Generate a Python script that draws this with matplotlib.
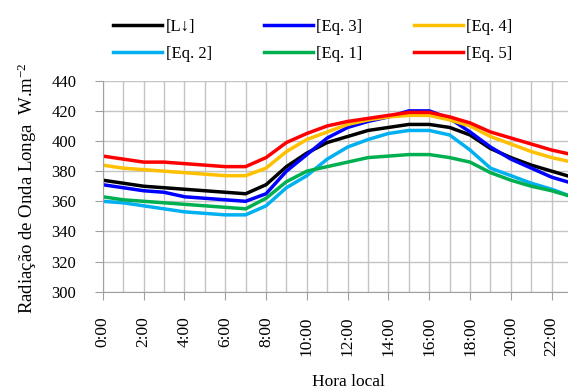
import numpy as np
import matplotlib
matplotlib.use("Agg")
import matplotlib.pyplot as plt
from matplotlib.ticker import MultipleLocator

plt.rcParams['font.family'] = ['Liberation Serif', 'DejaVu Serif']
plt.rcParams['mathtext.fontset'] = 'custom'
plt.rcParams['mathtext.rm'] = 'Liberation Serif'
plt.rcParams['mathtext.it'] = 'Liberation Serif:italic'

hours = np.arange(24)
xlabels = ["%d:00" % h for h in range(0, 24, 2)]

# valores (W.m-2)
obs = [374, 372, 370, 369, 368, 367, 366, 365, 371, 383, 392, 399, 403, 407, 409, 411, 411, 409, 404, 395, 389, 384, 380, 376]
eq3 = [371, 369, 367, 366, 363, 362, 361, 360, 365, 380, 391, 402, 409, 413, 416, 420, 420, 415, 406, 396, 388, 382, 376, 372]
eq4 = [384, 382, 381, 380, 379, 378, 377, 377, 382, 393, 401, 406, 411, 414, 416, 417, 417, 414, 410, 403, 398, 393, 389, 386]
eq5 = [390, 388, 386, 386, 385, 384, 383, 383, 389, 399, 405, 410, 413, 415, 417, 419, 419, 416, 412, 406, 402, 398, 394, 391]
eq2 = [360, 359, 357, 355, 353, 352, 351, 351, 357, 369, 377, 388, 396, 401, 405, 407, 407, 404, 394, 382, 377, 372, 368, 363]
eq1 = [363, 361, 360, 359, 358, 357, 356, 355, 362, 373, 380, 383, 386, 389, 390, 391, 391, 389, 386, 379, 374, 370, 367, 363]

fig = plt.figure(figsize=(5.68, 3.9), dpi=100)
ax = fig.add_axes([0.181, 0.252, 0.819, 0.541])

lw = 2.5
l_obs, = ax.plot(hours, obs, color="black", lw=lw, label="[L\u2193]")
l_eq2, = ax.plot(hours, eq2, color="#00B0F0", lw=lw, label="[Eq. 2]")
l_eq3, = ax.plot(hours, eq3, color="#0000FF", lw=lw, label="[Eq. 3]")
l_eq1, = ax.plot(hours, eq1, color="#00B050", lw=lw, label="[Eq. 1]")
l_eq4, = ax.plot(hours, eq4, color="#FFC000", lw=lw, label="[Eq. 4]")
l_eq5, = ax.plot(hours, eq5, color="#FF0000", lw=lw, label="[Eq. 5]")

ax.set_xlim(0, 22.8)
ax.set_ylim(300, 440)
ax.xaxis.set_minor_locator(MultipleLocator(1))
ax.yaxis.set_major_locator(MultipleLocator(20))
ax.set_xticks(range(0, 24, 2))
ax.set_xticklabels(xlabels, rotation=90, fontsize=12.5)
ax.tick_params(axis="y", labelsize=12, length=6, color="#a0a0a0", pad=13)
ax.tick_params(axis="x", which="major", length=6, color="#a0a0a0", pad=12)
ax.tick_params(axis="x", which="minor", length=0)
ax.grid(True, which="both", color="#c4c4c4", lw=1)
ax.set_axisbelow(True)
for s in ["top", "right"]:
    ax.spines[s].set_visible(False)
for s in ["left", "bottom"]:
    ax.spines[s].set_color("#a0a0a0")

ax.set_xlabel("Hora local", fontsize=12.5)
ax.xaxis.set_label_coords(0.529, -0.39)
ax.set_ylabel("Radiação de Onda Longa  W.m$^{-2}$", fontsize=13.5)
ax.yaxis.set_label_coords(-0.138, 0.49)

fig.legend(handles=[l_obs, l_eq2, l_eq3, l_eq1, l_eq4, l_eq5], ncol=3,
           loc="upper left", bbox_to_anchor=(0.173, 0.99), frameon=False,
           fontsize=12, handlelength=2.95, handletextpad=0.2,
           columnspacing=3.1, labelspacing=0.65)

fig.savefig("out.png", dpi=100)
